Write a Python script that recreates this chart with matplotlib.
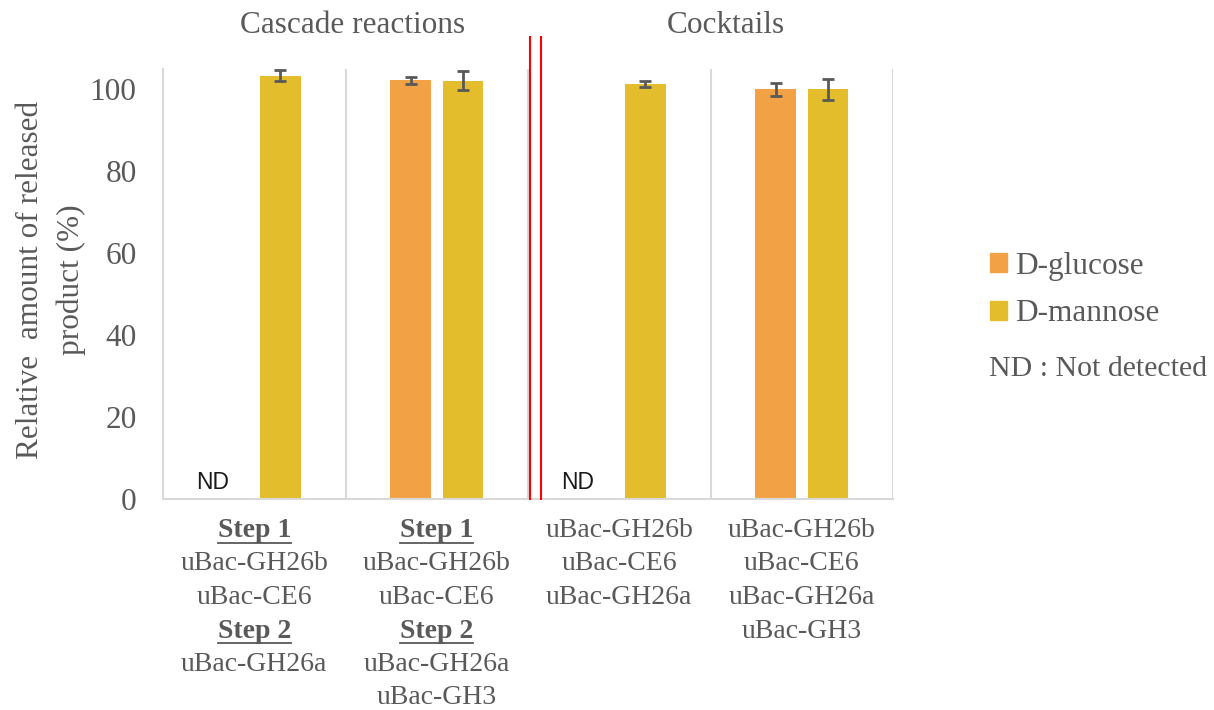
import numpy as np
import matplotlib
matplotlib.use("Agg")
import matplotlib.pyplot as plt
from matplotlib.patches import Patch
from matplotlib.lines import Line2D

plt.rcParams['font.family'] = ['Liberation Serif', 'DejaVu Serif']

# enzyme combinations shown under each group
cat_lines = [
    ["Step 1", "uBac-GH26b", "uBac-CE6", "Step 2", "uBac-GH26a"],
    ["Step 1", "uBac-GH26b", "uBac-CE6", "Step 2", "uBac-GH26a", "uBac-GH3"],
    ["uBac-GH26b", "uBac-CE6", "uBac-GH26a"],
    ["uBac-GH26b", "uBac-CE6", "uBac-GH26a", "uBac-GH3"],
]
section_titles = ["Cascade reactions", "Cocktails"]
series_names = ["D-glucose", "D-mannose"]

# relative released product (%), NaN = not detected
glucose = [np.nan, 102.2, np.nan, 100.0]
glucose_err = [np.nan, 0.9, np.nan, 1.7]
mannose = [103.4, 102.1, 101.3, 100.0]
mannose_err = [1.3, 2.3, 0.8, 2.6]

GRAY = "#595959"
GRID = "#d9d9d9"
C_GLU = "#f2a245"
C_MAN = "#e3bd2b"

fig = plt.figure(figsize=(12.14, 7.10), dpi=100)
ax = fig.add_axes([163 / 1214, 1 - 499 / 710, 730 / 1214, 430 / 710])

x = np.arange(len(cat_lines))
w = 0.222
off = 0.1435

for vals, errs, col, dx in [(glucose, glucose_err, C_GLU, -off),
                            (mannose, mannose_err, C_MAN, off)]:
    vals = np.array(vals)
    errs = np.array(errs)
    ok = ~np.isnan(vals)
    ax.bar(x[ok] + dx, vals[ok], width=w, color=col, zorder=2)
    ax.errorbar(x[ok] + dx, vals[ok], yerr=errs[ok], fmt='none',
                ecolor=GRAY, elinewidth=2, capsize=4, capthick=2, zorder=3)

# "ND" where glucose was not detected
for i, v in enumerate(glucose):
    if np.isnan(v):
        ax.text(i - 0.23, 4, "ND", ha='center', va='center',
                fontsize=16.5, family='Liberation Sans', color='#1a1a1a')

ax.set_xlim(-0.5, len(cat_lines) - 0.5)
ax.set_ylim(0, 105)
ax.set_yticks(range(0, 101, 20))
ax.tick_params(axis='y', length=0, pad=19, labelsize=22.5, labelcolor=GRAY)
ax.set_xticks([])

for s in ['top', 'right']:
    ax.spines[s].set_visible(False)
for s in ['left', 'bottom']:
    ax.spines[s].set_color(GRID)
    ax.spines[s].set_linewidth(1.5)

# group separators
for b in np.arange(0.5, len(cat_lines), 1.0):
    ax.axvline(b, color=GRID, lw=1.5, zorder=1)

# red double line between the two sections
for xr in [1.511, 1.573]:
    ax.plot([xr, xr], [0, 112.8], color='#ff0000', lw=1.5,
            clip_on=False, zorder=4)

ax.text(0.536, 1.083, section_titles[0], transform=ax.get_xaxis_transform(),
        ha='center', va='baseline', fontsize=22.5, color=GRAY)
ax.text(2.582, 1.083, section_titles[1], transform=ax.get_xaxis_transform(),
        ha='center', va='baseline', fontsize=22.5, color=GRAY)

ax.set_ylabel("Relative  amount of released\nproduct (%)", fontsize=22.5,
              color=GRAY, linespacing=1.5)
ax.yaxis.set_label_coords(-0.106, 0.51)

# multi-line category labels, "Step" headings bold and underlined
headings = []
for i, lines in enumerate(cat_lines):
    for k, line in enumerate(lines):
        bold = line.startswith("Step")
        t = ax.annotate(line, xy=(i, 0), xycoords=('data', 'axes fraction'),
                        xytext=(0, -(31.5 + 33.5 * k) * 0.72),
                        textcoords='offset points', ha='center', va='center',
                        fontsize=20, color=GRAY,
                        fontweight='bold' if bold else 'normal')
        if bold:
            headings.append(t)

handles = [Patch(color=C_GLU), Patch(color=C_MAN)]
fig.legend(handles, series_names, loc='center left',
           bbox_to_anchor=(990 / 1214, 1 - 290 / 710), frameon=False,
           fontsize=22.5, handlelength=0.55, handleheight=0.55,
           handletextpad=0.25, labelspacing=0.6, borderpad=0,
           borderaxespad=0, labelcolor=GRAY)
fig.text(989 / 1214, 1 - 375.7 / 710, "ND : Not detected", ha='left',
         va='baseline', fontsize=21.5, color=GRAY)

fig.canvas.draw()
renderer = fig.canvas.get_renderer()
inv = fig.transFigure.inverted()
for t in headings:
    bb = t.get_window_extent(renderer)
    yc = (bb.y0 + bb.y1) / 2 - 12.4
    (x0, y0), (x1, _) = inv.transform([(bb.x0, yc), (bb.x1, yc)])
    fig.add_artist(Line2D([x0, x1], [y0, y0], color=GRAY, lw=1.3,
                          transform=fig.transFigure))

fig.savefig("out.png", dpi=100)
